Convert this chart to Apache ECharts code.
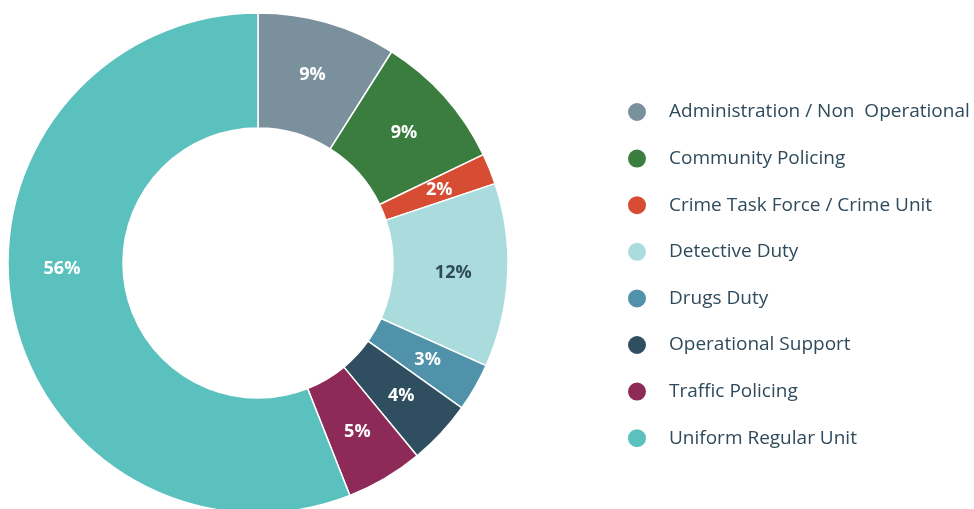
<!DOCTYPE html>
<html>
<head>
<meta charset="utf-8">
<script src="https://cdn.jsdelivr.net/npm/echarts@6/dist/echarts.min.js"></script>
<style>
  html, body { margin: 0; padding: 0; background: #fff; }
  #chart { width: 974px; height: 509px; }
</style>
</head>
<body>
<div id="chart"></div>
<script>
var categories = [
  "Administration / Non  Operational",
  "Community Policing",
  "Crime Task Force / Crime Unit",
  "Detective Duty",
  "Drugs Duty",
  "Operational Support",
  "Traffic Policing",
  "Uniform Regular Unit"
];
var shares = [9.0, 8.9, 2.0, 11.9, 3.1, 4.2, 5.0, 56.1];
var colors = ["#7b909d", "#3a7d3f", "#d64d34", "#aadcdd", "#4f92a9", "#2f4e5f", "#8d2a57", "#5ac1bf"];
var labelColors = ["#fff", "#fff", "#fff", "#2f4a5c", "#fff", "#fff", "#fff", "#fff"];

var chart = echarts.init(document.getElementById("chart"));
var pieData = categories.map(function (name, i) {
  var item = {
    name: name,
    value: shares[i],
    itemStyle: { color: colors[i] },
    label: { color: labelColors[i] }
  };
  // big slice: label sits higher than the mid angle in the original
  if (i === 7) item.label.offset = [-4, -31];
  return item;
});

chart.setOption({
  backgroundColor: "#fff",
  animation: false,
  legend: {
    orient: "vertical",
    left: 621,
    top: 96,
    icon: "circle",
    itemWidth: 20,
    itemHeight: 20,
    itemGap: 24.6,
    textStyle: {
      fontFamily: "Open Sans",
      fontSize: 19,
      color: "#2f4a5c",
      padding: [0, 0, 0, 17]
    },
    data: categories
  },
  series: [{
    type: "pie",
    center: [258, 263],
    radius: [135, 250],
    startAngle: 90,
    clockwise: true,
    percentPrecision: 0,
    itemStyle: { borderColor: "#fff", borderWidth: 1.5 },
    label: {
      show: true,
      position: "inside",
      formatter: "{d}%",
      fontFamily: "Open Sans",
      fontWeight: "bold",
      fontSize: 18
    },
    labelLine: { show: false },
    emphasis: { disabled: true },
    data: pieData
  }]
});
</script>
</body>
</html>
